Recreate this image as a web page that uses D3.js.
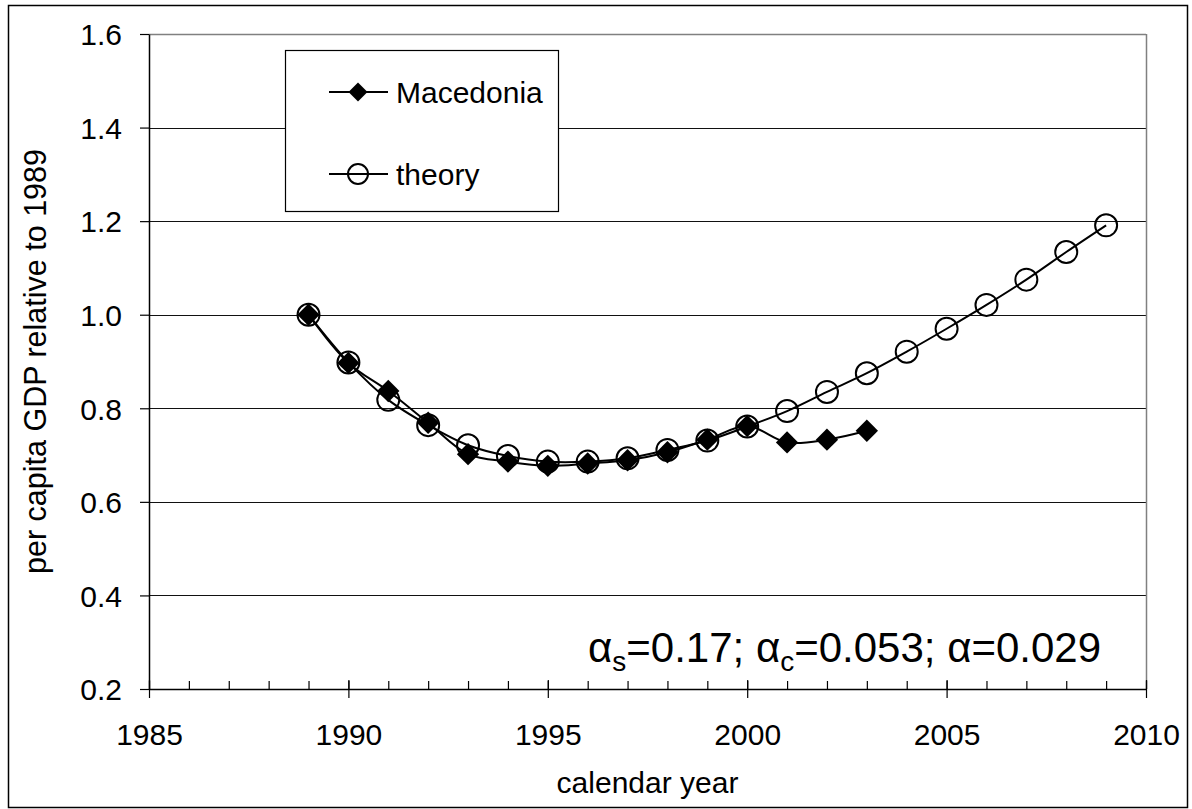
<!DOCTYPE html>
<html>
<head>
<meta charset="utf-8">
<script src="https://cdn.jsdelivr.net/npm/d3@7"></script>
<style>
  body { margin: 0; background: #fff; }
  svg text { font-family: "Liberation Sans", Arial, sans-serif; fill: #000; }
</style>
</head>
<body>
<svg id="chart" width="1192" height="809"></svg>
<script>
// Data
const macYears = [1989, 1990, 1991, 1992, 1993, 1994, 1995, 1996, 1997, 1998, 1999, 2000, 2001, 2002, 2003];
const macValues = [1.0, 0.897, 0.837, 0.769, 0.702, 0.686, 0.677, 0.682, 0.689, 0.706, 0.733, 0.762, 0.727, 0.733, 0.752];

const theoryYears = [1989, 1990, 1991, 1992, 1993, 1994, 1995, 1996, 1997, 1998, 1999, 2000,
  2001, 2002, 2003, 2004, 2005, 2006, 2007, 2008, 2009];
const theoryValues = [1.0, 0.898, 0.818, 0.764, 0.721, 0.698, 0.686, 0.686, 0.693, 0.711, 0.731, 0.761,
  0.794, 0.835, 0.875, 0.921, 0.970, 1.021, 1.075, 1.134, 1.191];

const yTicks = [0.2, 0.4, 0.6, 0.8, 1.0, 1.2, 1.4, 1.6];
const xMajorTicks = [1985, 1990, 1995, 2000, 2005, 2010];
const xMinorTicks = d3.range(1985, 2011);

const seriesNames = ['Macedonia', 'theory'];

const svg = d3.select('#chart');

// plot area
const plotLeft = 149, plotRight = 1146, plotTop = 34, plotBottom = 689;

const x = d3.scaleLinear().domain([1985, 2010]).range([plotLeft, plotRight]);
const y = d3.scaleLinear().domain([0.2, 1.6]).range([plotBottom, plotTop]);

// outer chart border
svg.append('rect')
  .attr('x', 8.5).attr('y', 5.5)
  .attr('width', 1179).attr('height', 802)
  .attr('fill', '#fff')
  .attr('stroke', '#000')
  .attr('stroke-width', 1.5);

// gridlines
svg.append('g')
  .selectAll('line')
  .data(yTicks.filter(d => d > 0.2))
  .enter()
  .append('line')
  .attr('x1', plotLeft).attr('x2', plotRight)
  .attr('y1', d => Math.round(y(d)) + 0.5)
  .attr('y2', d => Math.round(y(d)) + 0.5)
  .attr('stroke', d => d === 1.6 ? '#808080' : '#111')
  .attr('stroke-width', d => d === 1.6 ? 1.5 : 1);

// right border of plot area
svg.append('line')
  .attr('x1', plotRight + 0.5).attr('x2', plotRight + 0.5)
  .attr('y1', plotTop).attr('y2', plotBottom)
  .attr('stroke', '#808080')
  .attr('stroke-width', 1.5);

// y axis
const yAxis = svg.append('g')
  .attr('transform', 'translate(' + plotLeft + ',0)')
  .call(d3.axisLeft(y).tickValues(yTicks).tickSize(9).tickSizeOuter(0).tickFormat(d3.format('.1f')));
yAxis.select('.domain').attr('stroke', '#000').attr('stroke-width', 1.5);
yAxis.selectAll('.tick line').attr('stroke', '#000').attr('stroke-width', 1.2);
yAxis.selectAll('.tick text')
  .attr('x', -27)
  .attr('dy', '0.36em')
  .style('font-size', '30px');

// x axis, minor ticks point up into the plot
const xMinor = svg.append('g')
  .attr('transform', 'translate(0,' + plotBottom + ')')
  .call(d3.axisBottom(x).tickValues(xMinorTicks).tickSize(-8).tickSizeOuter(0).tickFormat(''));
xMinor.select('.domain').attr('stroke', '#000').attr('stroke-width', 1.5);
xMinor.selectAll('.tick line').attr('stroke', '#000').attr('stroke-width', 1.2);

// x axis, major ticks cross the axis
const xAxis = svg.append('g')
  .attr('transform', 'translate(0,' + plotBottom + ')')
  .call(d3.axisBottom(x).tickValues(xMajorTicks).tickSize(9).tickSizeOuter(0).tickFormat(d3.format('d')));
xAxis.select('.domain').remove();
xAxis.selectAll('.tick line').attr('y1', -9).attr('stroke', '#000').attr('stroke-width', 1.2);
xAxis.selectAll('.tick text')
  .attr('y', 56)
  .attr('dy', 0)
  .style('font-size', '30px');

// axis titles
svg.append('text')
  .attr('x', (plotLeft + plotRight) / 2)
  .attr('y', 793)
  .attr('text-anchor', 'middle')
  .style('font-size', '30px')
  .text('calendar year');

svg.append('text')
  .attr('transform', 'translate(46,' + (plotTop + plotBottom) / 2 + ') rotate(-90)')
  .attr('text-anchor', 'middle')
  .style('font-size', '30.5px')
  .text('per capita GDP relative to 1989');

// lines
const line = d3.line()
  .x(d => x(d[0]))
  .y(d => y(d[1]))
  .curve(d3.curveCatmullRom.alpha(0.5));

const theoryData = theoryYears.map((yr, i) => [yr, theoryValues[i]]);
const macData = macYears.map((yr, i) => [yr, macValues[i]]);

svg.append('path')
  .datum(theoryData)
  .attr('d', line)
  .attr('fill', 'none')
  .attr('stroke', '#000')
  .attr('stroke-width', 2);

svg.append('path')
  .datum(macData)
  .attr('d', line)
  .attr('fill', 'none')
  .attr('stroke', '#000')
  .attr('stroke-width', 2);

// markers
svg.append('g')
  .selectAll('circle')
  .data(theoryData)
  .enter()
  .append('circle')
  .attr('cx', d => x(d[0]))
  .attr('cy', d => y(d[1]))
  .attr('r', 11)
  .attr('fill', 'none')
  .attr('stroke', '#000')
  .attr('stroke-width', 2);

const diamond = d3.symbol().type(d3.symbolSquare).size(250);

svg.append('g')
  .selectAll('path')
  .data(macData)
  .enter()
  .append('path')
  .attr('d', diamond)
  .attr('transform', d => 'translate(' + x(d[0]) + ',' + y(d[1]) + ') rotate(45)')
  .attr('fill', '#000');

// legend
const legend = svg.append('g');
legend.append('rect')
  .attr('x', 285.5).attr('y', 50.5)
  .attr('width', 273).attr('height', 161)
  .attr('fill', '#fff')
  .attr('stroke', '#000')
  .attr('stroke-width', 1.2);

const legendRows = [92, 174];
seriesNames.forEach((name, i) => {
  const ly = legendRows[i];
  legend.append('line')
    .attr('x1', 329).attr('x2', 388)
    .attr('y1', ly).attr('y2', ly)
    .attr('stroke', '#000').attr('stroke-width', 2);
  if (i === 0) {
    legend.append('path')
      .attr('d', d3.symbol().type(d3.symbolSquare).size(180))
      .attr('transform', 'translate(358,' + ly + ') rotate(45)')
      .attr('fill', '#000');
  } else {
    legend.append('circle')
      .attr('cx', 358).attr('cy', ly).attr('r', 10)
      .attr('fill', 'none').attr('stroke', '#000').attr('stroke-width', 2);
  }
  legend.append('text')
    .attr('x', 396)
    .attr('y', ly)
    .attr('dy', '0.36em')
    .style('font-size', '30px')
    .text(name);
});

// parameter annotation
const note = svg.append('text')
  .attr('x', 588)
  .attr('y', 662)
  .style('font-size', '42px');
const parts = [['α', 's', '=0.17; '], ['α', 'c', '=0.053; '], ['α', '', '=0.029']];
parts.forEach(p => {
  note.append('tspan').attr('dy', 0).text(p[0]);
  if (p[1]) {
    note.append('tspan').attr('dy', 9).style('font-size', '28px').text(p[1]);
    note.append('tspan').attr('dy', -9).text(p[2]);
  } else {
    note.append('tspan').text(p[2]);
  }
});
</script>
</body>
</html>
